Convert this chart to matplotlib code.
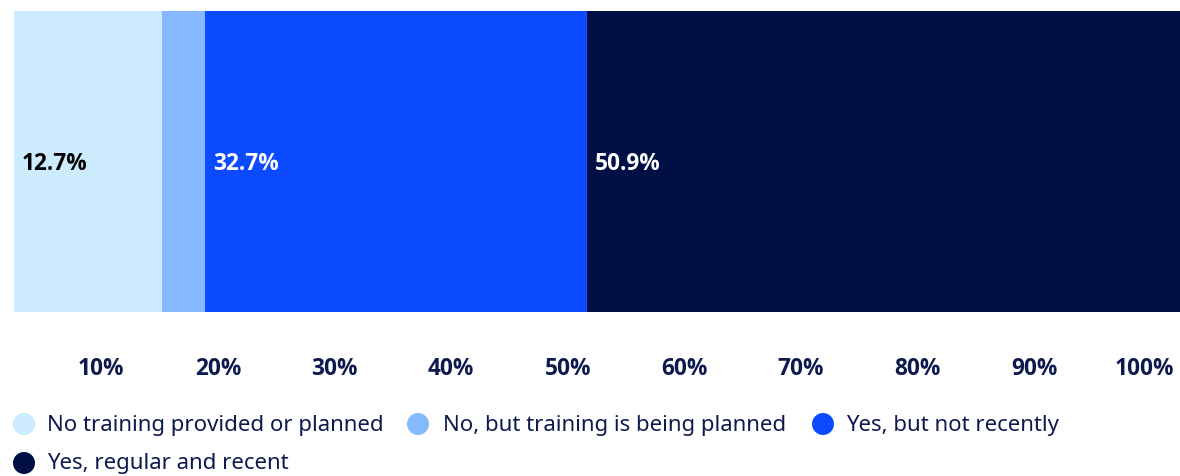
import matplotlib
matplotlib.use("Agg")
import matplotlib.pyplot as plt
from matplotlib.patches import Ellipse
from matplotlib.transforms import blended_transform_factory, offset_copy

# Survey answers: share of respondents (%)
categories = [
    "No training provided or planned",
    "No, but training is being planned",
    "Yes, but not recently",
    "Yes, regular and recent",
]
values = [12.7, 3.7, 32.7, 50.9]
shown_labels = ["12.7%", None, "32.7%", "50.9%"]
tick_values = [10, 20, 30, 40, 50, 60, 70, 80, 90, 100]
tick_labels = ["10%", "20%", "30%", "40%", "50%", "60%", "70%", "80%", "90%", "100%"]

colors = ["#CDEBFF", "#85B8FF", "#0C4AFF", "#000F45"]
label_colors = ["#000000", None, "#FFFFFF", "#FFFFFF"]
navy = "#0D1A4E"

plt.rcParams["font.family"] = ["Noto Sans", "DejaVu Sans"]
bold_family = ["Open Sans", "DejaVu Sans"]

W, H = 1180, 476
fig = plt.figure(figsize=(W / 100, H / 100), dpi=100)
ax = fig.add_axes([14 / W, (H - 312) / H, 1166 / W, 301 / H])

left = 0.0
for val, col, lab, lc in zip(values, colors, shown_labels, label_colors):
    ax.barh(0, val, left=left, height=1.0, color=col, edgecolor="none")
    if lab:
        t = offset_copy(ax.transData, fig=fig, x=8, y=-2, units="dots")
        ax.text(left, 0, lab, transform=t, ha="left", va="center",
                fontsize=16.3, fontweight="bold", family=bold_family, color=lc)
    left += val

ax.set_xlim(0, 100)
ax.set_ylim(-0.5, 0.5)
ax.axis("off")

# Axis labels, right-aligned just left of each gridline position
blend = blended_transform_factory(ax.transData, fig.transFigure)
tick_tr = offset_copy(blend, fig=fig, x=-6, y=0, units="dots")
for tv, tl in zip(tick_values, tick_labels):
    ax.text(tv, 1 - 369 / H, tl, transform=tick_tr, ha="right", va="center",
            fontsize=16.3, fontweight="bold", family=bold_family, color=navy,
            clip_on=False)

# Legend
legend_pos = [(24, 424), (418, 424), (823, 424), (24, 463)]
text_x = [47, 443, 846, 47]
for (mx, my), tx, col, name in zip(legend_pos, text_x, colors, categories):
    fig.add_artist(Ellipse((mx / W, 1 - my / H), 22 / W, 22 / H,
                           transform=fig.transFigure, facecolor=col,
                           edgecolor="none"))
    fig.text(tx / W, 1 - (my + 1) / H, name, ha="left", va="center",
             fontsize=16, color=navy)

fig.savefig("out.png", dpi=100, facecolor="white")
